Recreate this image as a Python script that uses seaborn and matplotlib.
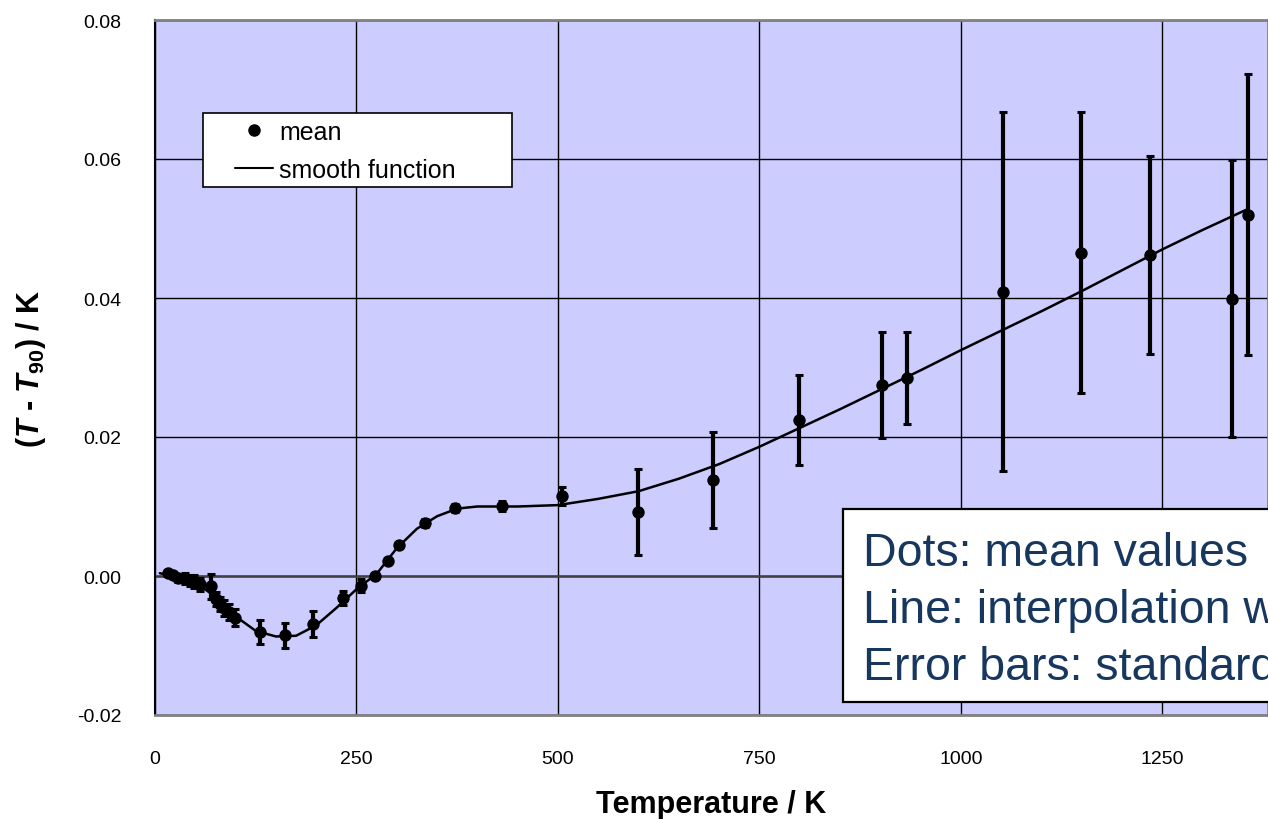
import matplotlib
matplotlib.use("Agg")
import matplotlib.pyplot as plt
from matplotlib.lines import Line2D
from matplotlib.patches import Rectangle
import seaborn as sns
import pandas as pd

# ---- data ----
temp_mean = [16, 22, 28, 37, 43, 49, 56, 70, 76, 81, 86, 92, 99, 130, 161, 196,
             233, 255, 273, 289, 303, 335, 372, 430, 505, 599, 692, 799, 902, 933,
             1052, 1149, 1235, 1336, 1356]
dev_mean = [0.0005, 0.0002, -0.0003, -0.0004, -0.0006, -0.0008, -0.0012, -0.0015,
            -0.0033, -0.0040, -0.0046, -0.0052, -0.0060, -0.0081, -0.0085, -0.0069,
            -0.0032, -0.0014, 0.0000, 0.0022, 0.0044, 0.0076, 0.0098, 0.0101,
            0.0115, 0.0092, 0.0138, 0.0224, 0.0275, 0.0285, 0.0409, 0.0465,
            0.0462, 0.0399, 0.0520]
dev_err = [0.0003, 0.0003, 0.0005, 0.0008, 0.0008, 0.0009, 0.0009, 0.0018,
           0.0010, 0.0010, 0.0011, 0.0011, 0.0012, 0.0017, 0.0018, 0.0019,
           0.0010, 0.0009, 0.0003, 0.0003, 0.0004, 0.0006, 0.0006, 0.0007,
           0.0013, 0.0062, 0.0069, 0.0065, 0.0076, 0.0066, 0.0258, 0.0202,
           0.0143, 0.0199, 0.0202]

temp_smooth = [6, 25, 50, 75, 100, 125, 150, 175, 200, 225, 250, 275, 300, 325,
               350, 375, 400, 450, 500, 550, 600, 650, 700, 750, 800, 850, 900,
               950, 1000, 1050, 1100, 1150, 1200, 1250, 1300, 1356]
dev_smooth = [0.0004, -0.0001, -0.0009, -0.0030, -0.0058, -0.0079, -0.0087,
              -0.0086, -0.0071, -0.0046, -0.0019, 0.0003, 0.0040, 0.0068, 0.0086,
              0.0097, 0.0100, 0.0100, 0.0102, 0.0111, 0.0122, 0.0140, 0.0161,
              0.0186, 0.0213, 0.0240, 0.0268, 0.0296, 0.0325, 0.0353, 0.0381,
              0.0410, 0.0440, 0.0470, 0.0498, 0.0528]

x_ticks = [0, 250, 500, 750, 1000, 1250]
y_ticks = [-0.02, 0.00, 0.02, 0.04, 0.06, 0.08]
y_tick_labels = ["-0.02", "0.00", "0.02", "0.04", "0.06", "0.08"]
legend_labels = ["mean", "smooth function"]
note_lines = ["Dots: mean values",
              "Line: interpolation with",
              "Error bars: standard"]

df_mean = pd.DataFrame({"T": temp_mean, "dev": dev_mean, "err": dev_err})
df_smooth = pd.DataFrame({"T": temp_smooth, "dev": dev_smooth})

# ---- style ----
sns.set_theme(style="white")
plt.rcParams["font.family"] = ["Liberation Sans", "DejaVu Sans"]
plt.rcParams["text.color"] = "black"
plt.rcParams["axes.labelcolor"] = "black"
plt.rcParams["xtick.color"] = "black"
plt.rcParams["ytick.color"] = "black"
plt.rcParams["mathtext.fontset"] = "custom"
plt.rcParams["mathtext.rm"] = "Liberation Sans:bold"
plt.rcParams["mathtext.it"] = "Liberation Sans:italic:bold"
plt.rcParams["mathtext.bf"] = "Liberation Sans:bold"

W, H = 1268, 820
fig = plt.figure(figsize=(W / 100, H / 100), dpi=100)
ax = fig.add_axes([155 / W, (H - 716) / H, (W - 155) / W, (716 - 21) / H])
ax.set_facecolor("#CCCCFF")

ax.set_xlim(0, 1381)
ax.set_ylim(-0.02, 0.08)
ax.set_xticks(x_ticks)
ax.set_yticks(y_ticks)
ax.set_yticklabels(y_tick_labels)
ax.tick_params(axis="both", length=0, labelsize=14, colors="black")
ax.tick_params(axis="x", pad=25)
ax.tick_params(axis="y", pad=24)

ax.grid(True, color="black", linewidth=1.0)
ax.set_axisbelow(True)
ax.axhline(0, color="#404040", linewidth=1.8, zorder=1)

for side in ["top", "bottom", "right"]:
    ax.spines[side].set_color("#808080")
    ax.spines[side].set_linewidth(2)
ax.spines["left"].set_color("black")
ax.spines["left"].set_linewidth(1.5)

# smooth function
sns.lineplot(data=df_smooth, x="T", y="dev", ax=ax, color="black",
             linewidth=1.8, zorder=3, legend=False)
# error bars
ax.errorbar(df_mean["T"], df_mean["dev"], yerr=df_mean["err"], fmt="none",
            ecolor="black", elinewidth=3.0, capsize=3.2, capthick=2.2, zorder=4)
# mean points
sns.scatterplot(data=df_mean, x="T", y="dev", ax=ax, color="black", s=80,
                edgecolor="black", linewidth=0, zorder=5, legend=False)

ax.set_xlabel("Temperature / K", fontsize=22, fontweight="bold", labelpad=16)
ax.set_ylabel(r"($\mathit{T}$ - $\mathit{T}_{\mathrm{90}}$) / K", fontsize=22,
              fontweight="bold", labelpad=21)

# legend box
ax.add_patch(Rectangle((203 / W, 1 - 188 / H), (512 - 203) / W, (188 - 114) / H,
                       transform=fig.transFigure, facecolor="white",
                       edgecolor="black", linewidth=1.2, zorder=6, clip_on=False))
handles = [Line2D([], [], linestyle="none", marker="o", color="black", markersize=8),
           Line2D([], [], color="black", linewidth=1.5)]
leg = ax.legend(handles, legend_labels, loc="upper left", frameon=False,
                bbox_to_anchor=(235 / W, 1 - 121 / H),
                bbox_transform=fig.transFigure, fontsize=18, borderpad=0,
                borderaxespad=0, handlelength=1.52, handletextpad=0.24,
                labelspacing=0.55)
leg.set_zorder(7)

# note box
ax.add_patch(Rectangle((843 / W, 1 - 703 / H), 500 / W, (703 - 510) / H,
                       transform=fig.transFigure, facecolor="white",
                       edgecolor="black", linewidth=1.6, zorder=6, clip_on=False))
for line, base in zip(note_lines, [566, 623, 680]):
    ax.text(863 / W, 1 - base / H, line, fontsize=33.5, color="#17375E",
            va="baseline", ha="left", zorder=7, transform=fig.transFigure)

fig.savefig("out.png", dpi=100)
